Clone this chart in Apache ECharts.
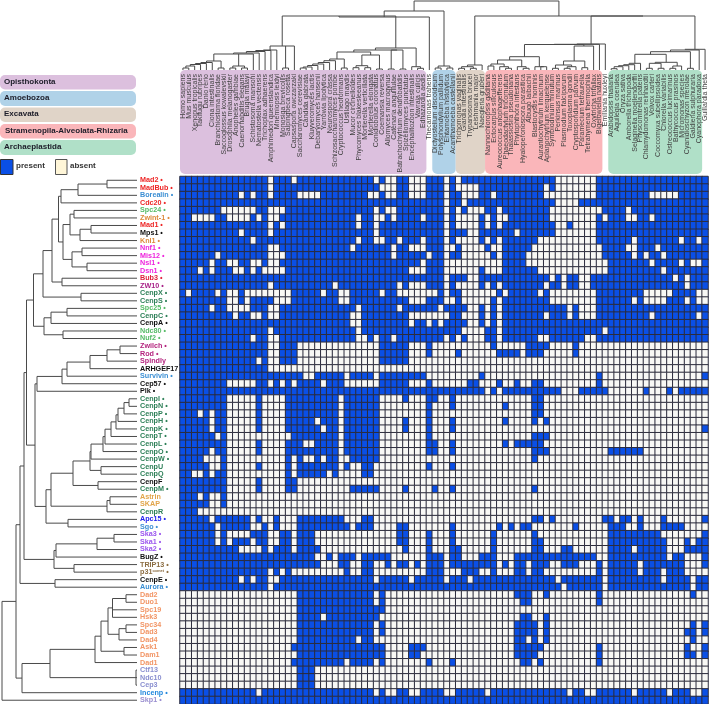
<!DOCTYPE html>
<html><head><meta charset="utf-8">
<style>html,body{margin:0;padding:0;background:#fff}#c{width:709px;height:704px}</style>
<script src="https://cdn.jsdelivr.net/npm/echarts@6/dist/echarts.min.js"></script>
</head><body><div id="c"></div>
<script>
const FONT='"Liberation Sans",Arial,sans-serif';
const species=["Homo sapiens","Mus musculus","Xenopus tropicalis","Takifugu rubripes","Danio rerio","Ciona intestinalis","Branchiostoma floridae","Saccoglossus kowalevskii","Drosophila melanogaster","Anopheles gambiae","Caenorhabditis elegans","Brugia malayi","Schistosoma mansoni","Nematostella vectensis","Trichoplax adhaerens","Amphimedon queenslandica","Mnemiopsis leidyi","Monosiga brevicollis","Salpingoeca rosetta","Capsaspora owczarzaki","Saccharomyces cerevisiae","Candida glabrata","Kluyveromyces lactis","Debaryomyces hansenii","Yarrowia lipolytica","Neurospora crassa","Schizosaccharomyces pombe","Cryptococcus neoformans","Ustilago maydis","Mucor circinelloides","Phycomyces blakesleeanus","Mortierella verticillata","Mortierella elongata","Conidiobolus coronatus","Coemansia reversa","Allomyces macrogynus","Catenaria anguillulae","Batrachochytrium dendrobatidis","Spizellomyces punctatus","Encephalitozoon intestinalis","Vavraia culicis","Edhazardia aedis","Thecamonas trahens","Dictyostelium discoideum","Polysphondylium pallidum","Entamoeba histolytica","Acanthamoeba castellanii","Trichomonas vaginalis","Giardia intestinalis","Trypanosoma brucei","Leishmania major","Naegleria gruberi","Nannochloropsis gaditana","Ectocarpus siliculosus","Aureococcus anophagefferens","Phaeodactylum tricornutum","Thalassiosira pseudonana","Phytophthora infestans","Hyaloperonospora parasitica","Albugo laibachii","Blastocystis hominis","Aurantiochytrium limacinum","Aplanochytrium kerguelense","Symbiodinium minutum","Perkinsus marinus","Plasmodium falciparum","Toxoplasma gondii","Cryptosporidium parvum","Paramecium tetraurelia","Tetrahymena thermophila","Oxytricha trifallax","Bigelowiella natans","Emiliania huxleyi","Arabidopsis thaliana","Aquilegia coerulea","Oryza sativa","Amborella trichopoda","Selaginella moellendorffii","Physcomitrella patens","Chlamydomonas reinhardtii","Volvox carteri","Coccomyxa subellipsoidea","Chlorella variabilis","Ostreococcus lucimarinus","Bathycoccus prasinos","Micromonas species","Cyanidioschyzon merolae","Galdieria sulphuraria","Cyanophora paradoxa","Guillardia theta"];
const proteins=["Mad2 •","MadBub •","Borealin •","Cdc20 •","Spc24 •","Zwint-1 •","Mad1 •","Mps1 •","Knl1 •","Nnf1 •","Mis12 •","Nsl1 •","Dsn1 •","Bub3 •","ZW10 •","CenpX •","CenpS •","Spc25 •","CenpC •","CenpA •","Ndc80 •","Nuf2 •","Zwilch •","Rod •","Spindly","ARHGEF17","Survivin •","Cep57 •","Plk •","CenpI •","CenpN •","CenpP •","CenpH •","CenpK •","CenpT •","CenpL •","CenpO •","CenpW •","CenpU","CenpQ","CenpF","CenpM •","Astrin","SKAP","CenpR","Apc15 •","Sgo •","Ska3 •","Ska1 •","Ska2 •","BugZ •","TRIP13 •","p31 •","CenpE •","Aurora •","Dad2","Duo1","Spc19","Hsk3","Spc34","Dad3","Dad4","Ask1","Dam1","Dad1","Ctf13","Ndc10","Cep3","Incenp •","Skp1 •"];
const R='#ee2626',B='#3b8fd4',LG='#55bb66',DG='#2e8058',K='#111111',OR='#dd8a3a',MG='#ee22dd',PL='#b4247e',AM='#e2a54a',PU='#9a55ee',BR='#8c6d42',SA='#f29565',LV='#8a8fd0';
const proteinColors=[R,R,B,R,LG,OR,R,K,OR,MG,MG,MG,MG,'#e0203a','#a82288',DG,DG,LG,DG,K,LG,LG,PL,PL,PL,K,B,K,K,DG,DG,DG,DG,DG,DG,DG,DG,DG,DG,DG,K,DG,AM,AM,DG,'#2222ee',B,PU,PU,PU,K,BR,BR,K,B,SA,SA,SA,SA,SA,SA,SA,SA,SA,SA,LV,LV,LV,'#2288dd','#9a8fd0'];
// Columns in which each protein is absent, row by row
const absentRows=[
"15,19,33,35,36,39-41,45,47,64-70",
"15,34-36,39-41,45,47-50,62,64-70",
"10,12,15,20-23,32,33,35,36,39-41,45,48-50,53,62-70,80-84",
"45,48,64-67",
"7-12,15-17,33,35,36,45,47,49-51,54,63-71,76",
"2-5,8-11,13,15,16,30,33,34,36,41,45,47-50,52,54,55,63-70,72,76,77,80",
"15,17,30,33,45,47-50,52,54,64,65,67-70",
"10,15,33,45,49,50,57,64-70",
"12,30,33,34,37,41,45,47-50,52,54,61-70,77,85,88",
"15,16,29,36,39-41,45,46,48-51,53,54,60-71,76,77,81",
"6,15-17,36,42,45,48-52,54,59-71,77,79,82",
"5,8,9,12,13,15,16,41,45-54,59-72,80,85,87,88",
"3,5,9,10,12,14-17,39-41,45-50,52-54,61-72,82",
"45,49,50,63,65,68,69,84,86",
"15,26,37,39-41,45,47-50,52,54,62,65,68,69,86",
"1,6,8,9,11-18,24,27,28,34,37-43,45,48-53,55,61,63-70,79-83,88,89",
"8,9,11,16-18,27,28,39-41,45,46,48-52,54,63-70,77,79-82,86,88,89",
"5,8-11,15,16,30,37,44,49,50,52,54,66,68-70",
"9,12,13,15,16,29,30,39-45,48-50,52,54,62,66,68-70,80,88",
"29,30,39,42,44,49,50,52,54",
"15,30,48-51,54,72",
"12,15,16,30,31,33,36,45,47,49-51,54,61,62,69,70",
"15,16,20-33,39-41,43-52,54-58,63-66,68-89",
"15,16,20-33,39-41,43-46,48-53,58,62-66,68-89",
"13,15,16,20-33,39-89",
"15-89",
"21,22,28,33,42-50,52-70,72-88",
"8-12,15,17,19,24,28-33,39-41,43-48,51-53,55,56,58,59,62-70,72-89",
"52,54,65-67,73-78,80-82,84",
"8-12,14-17,27,34-37,39-41,44,45,47-59,62-89",
"8-12,14-17,27,34-41,43-45,47-54,56-59,62-89",
"3,5,8-12,14-17,27,34-41,43-59,62-89",
"5,8-12,14-17,23,27,34-37,39-41,43-45,47-54,56-59,61,63-89",
"5,8-12,14-17,24,27,34-37,39-41,43-45,47-88",
"6,8-18,27,34-41,43-59,63-89",
"8-12,14-17,21,22,27,34-41,44,45,47-54,56,62-89",
"5,8-12,14-17,27,34-41,44,45,47-59,63-72,79-89",
"4-6,8-17,19,21,22,24,27,28,34-59,61-89",
"5,6,8-12,14-17,19,27,29,30,33-41,43-45,47-89",
"2,3,5,8-17,19,25,27-30,33-89",
"8-12,14-17,20-89",
"8-12,14-17,20-28,34-37,39-42,44,45,47-59,61-89",
"3,5,6,8-89",
"5,6,8-89",
"3-89",
"5,12,14,15,17-19,28-30,33-59,62,64-71,74,77,79-81,83-88",
"6,12,13,15,17-19,29,33-36,39-45,47-53,55,57,60-66,68-72,76,77,79-81,86-89",
"6,8-11,15,16,19,23-36,39-41,43-45,47-52,54-59,61-72,82-88",
"6,8,12,15,16,19,23-36,39-41,43-45,47-52,54-59,62-72,83-85,87",
"10-13,15,19,24-37,39-41,43-45,48-52,54-59,62-64,67-72,77,83-85",
"23,24,26,30,36-41,45,48-50,54-56,71,72,83,86-88",
"24-26,29,30,33,34,36,39,41,45,54,56,59,63,64,68-70,72,78,86-88",
"15,17,19-27,29,30,33-41,45-47,51,52,54-56,59,62-70,72,78,82,86-89",
"10,12,15,16,33,39,45,49,64,72,82,87",
"15,65,72,87",
"0-19,33,35-56,60,61,63-70,72-86,88,89",
"0-19,33,35-57,60-70,72-89",
"0-19,35-89",
"0-19,24,34-57,60,61,63-89",
"0-19,33,35-56,61,63-86,88",
"0-19,33,35-56,61,63-85,88",
"0-19,30,33-56,59,61,63-86,88,89",
"0-18,35-38,42-56,62-70,72-85,87,88",
"0-19,35-38,41-56,61-70,72-85,88",
"0-18,28,33,35-41,43-45,47-57,60,62-70,72-89",
"0-19,23-89",
"0-19,23-89",
"0-19,23-89",
"13,33,35,36,39,40,45,46,52,66,69,70,77,83,87,88",
""
];
// Trees: [height, child, child, ...]; a bare number is a leaf index
const rowTree=[2,[16,[20,[24,[26.5,[33.5,[43,[52,[58.5,[61,[78,[107,0,1],2],3],[63,[70,[74,4,5],[80,[91,6,7],8]],[72,[82,9,10],[87,11,12]]]],[62,13,14]],[81,15,16]],[44,[51,[67,17,18],19],[63,20,21]]],[35,[37,[62,[67,[90,[107,[120,22,23],24],25],26],27],28],[46,[51,[73,[90,[91,[103,[105,[111,[116,[118,[124,[129,29,30],31],32],33],34],35],36],37],[101,38,39]],[98,40,41]],[107,[110,42,43],44]],[68,45,46]]]],[54,[56,[97,[114,47,48],49],50],[74,51,52]]],[55,53,54]],[22,[50,[95,[101,[108,[112.5,[126,55,56],57,58],[119,[126,59,60],61]],[124,62,63]],64],[136,65,66,67]],68]],69];
const holozoa=[46,[50,[50.5,[51.5,[53,[54,[61,[62.5,[63.5,[64.5,[66,[68,0,1],2],3],4],5],[68,6,7]],[66,[68,8,9],[68,10,11]],12],13],14],15],16],[68,17,18],19];
const fungi=[48,[50,[52,[59,[60.7,[62.5,[64,[65.5,[67,[68,20,21],22],23],24],25],26],[68,27,28]],[55,[65.7,[67.7,29,30],[67.7,31,32]],[69,33,34]]],[50,[69,35,36],[69,37,38]]],[66.7,39,[68.3,40,41]]];
const topTree=[1,[11,[17,[16,holozoa,fungi],42],[66,[68,43,44],[68,45,46]]],[16,[65,[66.7,[68.3,47,48],[68.3,49,50]],51],[16,[44,[44.3,[44.5,[56.7,[60,[64,[66,52,53],[66.7,54,[68.3,55,56]]],[66.7,57,[68.3,58,59]]],[66.7,60,[66.7,61,62]]],[46,[61,[65,[68.3,63,64],[66.7,[68.3,65,66],67]],[67.7,68,69]],70]],71],72],[49.3,[50,[51.7,[54.3,[63.3,[64.7,[65.7,[66.7,[68.7,73,74],75],76],77],78],[62.3,[63.3,[68.3,79,80],[68.3,81,82]],[66,[68.3,83,84],85]]],[68.3,86,87]],88],89]]]];
const panelSpans=[[0,41],[43,46],[47,51],[52,71],[73,88]];
const panelColors=['#dcc0de','#b0d2e8','#e0d4c8','#fab6ba','#b0e0c8'];
const groupNames=['Opisthokonta','Amoebozoa','Excavata','Stramenopila-Alveolata-Rhizaria','Archaeplastida'];

function parseAbsent(s){const o=new Set();if(!s)return o;s.split(',').forEach(p=>{const a=p.split('-').map(Number);for(let i=a[0];i<=(a[1]===undefined?a[0]:a[1]);i++)o.add(i);});return o;}
const heat=[];
absentRows.forEach((s,r)=>{const ab=parseAbsent(s);species.forEach((_,c)=>heat.push([c,r,ab.has(c)?0:1]));});

function walk(node,leafH,emit){
  if(typeof node==='number')return {p:node,h:leafH,leaf:true};
  const h=node[0];const kids=node.slice(1).map(k=>walk(k,leafH,emit));
  kids.forEach(k=>emit([k.p,k.h],[k.p,h]));
  const ps=kids.map(k=>k.p);const lo=Math.min(...ps),hi=Math.max(...ps);
  emit([lo,h],[hi,h]);
  return {p:(lo+hi)/2,h:h};
}
const leftSeg=[];walk(rowTree,137,(a,b)=>{leftSeg.push([a[1],a[0]],[b[1],b[0]],[NaN,NaN]);});
const topSeg=[];walk(topTree,70,(a,b)=>{topSeg.push([a[0],a[1]],[b[0],b[1]],[NaN,NaN]);});

const pill=(i,y,h)=>[{type:'rect',left:0,top:y,shape:{x:0,y:0,width:136,height:h,r:5},style:{fill:panelColors[i]}},
 {type:'text',left:i===3?5:4,top:y+h/2-4.5,style:{text:groupNames[i],font:'bold 8px '+FONT,fill:'#1c1c28'}}];
const graphics=[].concat(pill(0,75,14.5),pill(1,91,15),pill(2,107.5,14.5),pill(3,124,14.5),pill(4,140,15),[
 {type:'rect',left:0,top:159,shape:{x:0,y:0,width:12.5,height:15},style:{fill:'#0a4fe6',stroke:'#333',lineWidth:1}},
 {type:'text',left:16,top:162,style:{text:'present',font:'bold 8px '+FONT,fill:'#333'}},
 {type:'rect',left:55,top:159,shape:{x:0,y:0,width:11.5,height:15},style:{fill:'#fff6d8',stroke:'#555',lineWidth:1}},
 {type:'text',left:70,top:162,style:{text:'absent',font:'bold 8px '+FONT,fill:'#333'}}
]);

const chart=echarts.init(document.getElementById('c'),null,{renderer:'canvas'});
chart.setOption({
 animation:false,
 textStyle:{fontFamily:FONT},
 graphic:graphics,
 grid:[
  {left:180,top:176.5,width:528,height:527.5},
  {left:180,top:0,width:528,height:174},
  {left:180,top:0,width:528,height:73},
  {left:0,top:176.5,width:137,height:527.5}
 ],
 xAxis:[
  {gridIndex:0,type:'category',data:species,show:false},
  {gridIndex:1,type:'value',min:-0.5,max:89.5,show:false},
  {gridIndex:2,type:'category',data:species,position:'bottom',z:10,axisLine:{show:false},axisTick:{show:false},
   axisLabel:{rotate:90,interval:0,margin:1,fontSize:7,color:'#3f3f3f',fontFamily:FONT,hideOverlap:false}},
  {gridIndex:3,type:'value',min:0,max:137,show:false}
 ],
 yAxis:[
  {gridIndex:0,type:'category',inverse:true,
   data:proteins.map((p,i)=>({value:p,textStyle:{color:proteinColors[i],align:'left'}})),
   axisLine:{show:false},axisTick:{show:false},z:10,
   axisLabel:{interval:0,align:'left',margin:40,fontSize:7.2,fontWeight:'bold',fontFamily:FONT,
    formatter:v=>v==='p31 •'?'{a|p31}{s|comet}{a| •}':v,
    rich:{a:{color:BR,fontSize:7.2,fontWeight:'bold'},s:{color:BR,fontSize:4,fontWeight:'bold',verticalAlign:'top'}}}},
  {gridIndex:1,type:'value',inverse:true,min:0,max:174,show:false},
  {gridIndex:2,type:'value',show:false},
  {gridIndex:3,type:'value',inverse:true,min:-0.5,max:69.5,show:false}
 ],
 visualMap:{show:false,type:'piecewise',seriesIndex:0,dimension:2,
  pieces:[{value:1,color:'#0a4fe6'},{value:0,color:'#f8f8f5'}]},
 series:[
  {type:'heatmap',xAxisIndex:0,yAxisIndex:0,data:heat,progressive:0,z:3,
   itemStyle:{borderColor:'#2c2c3c',borderWidth:1},emphasis:{disabled:true}},
  {type:'custom',xAxisIndex:1,yAxisIndex:1,z:1,silent:true,clip:false,
   data:panelSpans.map((s,i)=>[s[0],s[1],i]),
   renderItem:(p,api)=>{
     const a=api.coord([api.value(0)-0.5,70]),b=api.coord([api.value(1)+0.5,174]);
     return {type:'rect',shape:{x:a[0],y:a[1],width:b[0]-a[0],height:b[1]-a[1],r:5},style:{fill:panelColors[api.value(2)]}};
   }},
  {type:'line',xAxisIndex:1,yAxisIndex:1,data:topSeg,symbol:'none',connectNulls:false,silent:true,z:3,
   lineStyle:{color:'#4a4a4a',width:1}},
  {type:'line',xAxisIndex:3,yAxisIndex:3,data:leftSeg,symbol:'none',connectNulls:false,silent:true,z:3,
   lineStyle:{color:'#4a4a4a',width:1}}
 ]
});
</script></body></html>
